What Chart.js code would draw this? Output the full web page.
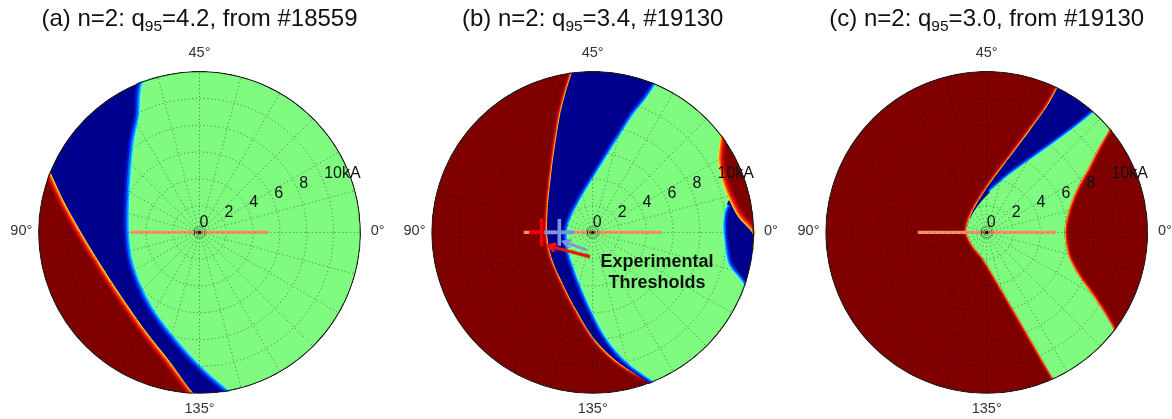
<!DOCTYPE html>
<html>
<head>
<meta charset="utf-8">
<script src="https://cdn.jsdelivr.net/npm/chart.js@4.4.1/dist/chart.umd.min.js"></script>
<style>
  html, body { margin: 0; padding: 0; background: #fff; overflow: hidden; }
  #wrap { position: relative; width: 1172px; height: 419px; overflow: hidden; }
  canvas { position: absolute; top: 0; }
</style>
</head>
<body>
<div id="wrap">
  <canvas id="pa" width="393" height="419"></canvas>
  <canvas id="pb" width="393" height="419"></canvas>
  <canvas id="pc" width="393" height="419"></canvas>
</div>
<script>
// ---------- axes ----------
const rMax = 12;                                   // outer ring, kA
const radialTicks = [0, 2, 4, 6, 8, 10];           // kA
const radialTickLabels = ['0', '2', '4', '6', '8', '10kA'];
const angleTicks = [0, 45, 90, 135];               // phase label, drawn at twice its value
const scanHalfLength = 5.15;                       // kA, scanned current range

// ---------- titles ----------
const titlePre  = ['(a) n=2: q', '(b) n=2: q', '(c) n=2: q'];
const titleSub  = ['95', '95', '95'];
const titlePost = ['=4.2, from #18559', '=3.4, #19130', '=3.0, from #19130'];

// ---------- region boundaries (x, y in kA) ----------
// (a)
const aRedEdge   = [[-11.21,4.53],[-10.04,2.17],[-8.79,-0.07],[-7.43,-2.31],[-5.81,-4.80],[-4.07,-7.28],[-2.20,-9.65],[-0.46,-11.96]];
const aGreenEdge = [[-2.95,11.87],[-3.82,10.38],[-4.44,8.63],[-4.81,6.87],[-5.06,4.41],[-5.19,1.92],[-5.19,0.05],[-4.99,-1.81],[-4.44,-3.55],[-3.45,-5.54],[-2.20,-7.28],[-0.71,-9.02],[0.78,-10.51],[2.28,-11.76]];
// (b)
const bRedEdge   = [[-1.57,11.88],[-2.07,10.26],[-2.44,8.77],[-2.81,6.53],[-3.11,4.29],[-3.34,2.05],[-3.41,0.04],[-3.26,-1.16],[-2.96,-2.20],[-2.44,-3.40],[-1.32,-5.63],[0.17,-8.02],[2.04,-9.81],[4.43,-11.23]];
const bGreenEdge = [[4.78,11.13],[3.98,9.89],[3.08,8.77],[1.74,6.68],[0.25,4.29],[-0.87,2.43],[-1.69,0.78],[-1.88,-0.19],[-1.77,-1.31],[-1.47,-2.28],[-1.02,-3.54],[-0.13,-5.63],[1.07,-7.87],[2.63,-9.66],[4.57,-11.04]];
const bLensUpper = [[9.37,7.20],[9.35,5.41],[9.65,3.77],[10.17,2.43]];
const bLensLower = [[10.17,2.43],[10.84,1.16],[11.44,-0.19],[11.87,-1.31]];
const bRightGreenEdge = [[10.17,2.43],[10.00,2.10],[9.80,1.60],[9.68,0.56],[9.80,-0.93],[10.10,-2.43],[10.47,-3.77],[10.91,-4.96]];
// (c)
const cLeftUpper = [[5.22,10.67],[4.48,9.37],[3.23,7.63],[1.74,5.64],[0.25,3.66],[-0.87,1.91],[-1.32,0.92]];
const cLeftLower = [[-1.32,0.92],[-1.49,0.04],[-1.04,-0.95],[-0.25,-1.94],[1.24,-4.43],[2.73,-6.99],[4.22,-9.58],[4.97,-10.82]];
const cGreenEdge = [[-1.32,0.92],[-0.80,1.81],[0.25,3.01],[1.74,4.28],[3.60,5.62],[5.47,6.96],[6.96,8.08],[7.95,8.88]];
const cRightEdge = [[9.07,7.69],[8.31,6.29],[7.56,4.80],[6.81,3.46],[6.22,2.04],[5.84,0.54],[5.84,-0.57],[6.14,-1.92],[6.81,-3.19],[7.71,-4.46],[8.60,-5.80],[9.45,-7.29]];

// ---------- measured thresholds in (b) ----------
const thresholdX    = [-3.81, -2.49];   // kA along the 90° direction
const thresholdErrX = [0.93, 1.12];
const thresholdErrY = [1.06, 1.00];
const arrowTails = [[-0.20,-1.81],[-0.45,-1.31]];
const arrowHeads = [[-3.31,-1.01],[-2.19,-0.69]];
const noteLines = ['Experimental', 'Thresholds'];
const noteAnchor = [4.8, -2.18, -3.75];    // x, y of line 1, y of line 2 (kA)

// ---------- styling ----------
const DARK_RED = 'rgb(128,0,0)';
const NAVY = 'rgb(0,0,143)';
const GREEN = 'rgb(127,252,127)';
const GRID = 'rgba(0,0,0,0.42)';
const RED_BAND  = [[9,'rgb(185,0,0)'],[6,'rgb(235,25,0)'],[3.6,'rgb(255,110,0)'],[1.6,'rgb(255,215,40)']];
const BLUE_BAND = [[10,'rgb(0,20,205)'],[6.5,'rgb(0,90,255)'],[3.8,'rgb(0,190,255)'],[1.6,'rgb(110,255,220)']];

// ---------- geometry helpers ----------
const toXY = arr => arr.map(p => ({x: p[0], y: p[1]}));
const angOf = p => Math.atan2(p[1], p[0]);
function snap(p) {
  const r = Math.hypot(p[0], p[1]);
  return r > 11 ? [p[0] * rMax / r, p[1] * rMax / r] : [p[0], p[1]];
}
function ring(r, stepDeg) {
  const out = [];
  for (let d = 0; d <= 360; d += stepDeg) {
    const t = d * Math.PI / 180;
    out.push([r * Math.cos(t), r * Math.sin(t)]);
  }
  return out;
}
function rimArc(a0, a1, dir) {
  let d = a1 - a0;
  if (dir > 0) { while (d <= 0) d += 2 * Math.PI; } else { while (d >= 0) d -= 2 * Math.PI; }
  const n = Math.max(2, Math.ceil(Math.abs(d) / (Math.PI / 90)));
  const out = [];
  for (let i = 1; i < n; i++) {
    const t = a0 + d * i / n;
    out.push([rMax * Math.cos(t), rMax * Math.sin(t)]);
  }
  return out;
}
// closed outline from boundary pieces, joined along the rim where dir != 0
function region(parts) {
  const out = [];
  parts.forEach((p, i) => {
    const e = (p.rev ? p.edge.slice().reverse() : p.edge).map(snap);
    out.push(...e);
    if (p.dir) {
      const n = parts[(i + 1) % parts.length];
      const s = snap(n.rev ? n.edge[n.edge.length - 1] : n.edge[0]);
      out.push(...rimArc(angOf(e[e.length - 1]), angOf(s), p.dir));
    }
  });
  out.push(out[0]);
  return out;
}

function fillSet(points, color) {
  return { data: toXY(points), showLine: true, fill: 'shape', backgroundColor: color,
           borderWidth: 0, pointRadius: 0, tension: 0.3, clip: false };
}
function lineSet(points, color, width, extra) {
  return Object.assign({ data: toXY(points), showLine: true, fill: false, borderColor: color,
           borderWidth: width, pointRadius: 0, tension: 0.3, clip: false,
           borderCapStyle: 'butt', borderJoinStyle: 'round' }, extra || {});
}
function band(edge, spec, k) {
  const e = edge.map(snap);
  return spec.map(([w, c]) => lineSet(e, c, w * k));
}
function arrow(tail, head, color, w) {
  const dx = head[0] - tail[0], dy = head[1] - tail[1], L = Math.hypot(dx, dy);
  const ux = dx / L, uy = dy / L, hl = 0.62, sp = 0.5;
  const c = Math.cos(sp), s = Math.sin(sp);
  const a1 = [head[0] - hl * (ux * c - uy * s), head[1] - hl * (uy * c + ux * s)];
  const a2 = [head[0] - hl * (ux * c + uy * s), head[1] - hl * (uy * c - ux * s)];
  return [lineSet([tail, head], color, w, {tension: 0}),
          lineSet([a1, head, a2], color, w, {tension: 0, borderJoinStyle: 'miter'})];
}

// ---------- layers of each panel (back to front) ----------
function layersA() {
  return [
    fillSet(ring(rMax, 2), DARK_RED),
    ...band(aRedEdge, RED_BAND, 1.3),
    fillSet(region([{edge: aRedEdge, dir: 1}]), NAVY),
    ...band(aGreenEdge, BLUE_BAND, 1.3),
    fillSet(region([{edge: aGreenEdge, dir: 1}]), GREEN)
  ];
}
function layersB() {
  const lens = bLensUpper.concat(bLensLower.slice(1));
  return [
    fillSet(ring(rMax, 2), DARK_RED),
    ...band(bRedEdge, RED_BAND, 0.7),
    fillSet(region([{edge: bRedEdge, dir: 1}]), NAVY),
    ...band(bGreenEdge, BLUE_BAND, 1.0),
    fillSet(region([{edge: lens, dir: 1}]), DARK_RED),
    ...band(lens, RED_BAND, 1.5),
    fillSet(region([{edge: bLensLower, dir: -1}, {edge: bRightGreenEdge, rev: true, dir: 0}]), NAVY),
    ...band(bRightGreenEdge.slice(1), BLUE_BAND, 1.0),
    fillSet(region([{edge: bGreenEdge, dir: 1},
                    {edge: bRightGreenEdge, rev: true, dir: 0},
                    {edge: bLensUpper, rev: true, dir: 1}]), GREEN)
  ];
}
function layersC() {
  const left = cLeftUpper.concat(cLeftLower.slice(1));
  return [
    fillSet(ring(rMax, 2), DARK_RED),
    ...band(left, RED_BAND, 0.7),
    ...band(cRightEdge, RED_BAND, 0.8),
    fillSet(region([{edge: left, dir: 1}, {edge: cRightEdge, rev: true, dir: 1}]), NAVY),
    ...band(cGreenEdge.slice(2), BLUE_BAND, 0.8),
    fillSet(region([{edge: cGreenEdge, rev: true, dir: 0},
                    {edge: cLeftLower, dir: 1},
                    {edge: cRightEdge, rev: true, dir: 1}]), GREEN)
  ];
}
function overlay(withThresholds) {
  const s = [];
  radialTicks.slice(1).forEach(r =>
    s.push(lineSet(ring(r, 2), GRID, 1, {tension: 0, borderDash: [1.2, 2.6]})));
  for (let k = 0; k < 24; k++) {
    const t = k * 15 * Math.PI / 180;
    s.push(lineSet([[0.45 * Math.cos(t), 0.45 * Math.sin(t)], [rMax * Math.cos(t), rMax * Math.sin(t)]],
                   GRID, 1, {tension: 0, borderDash: [1.2, 2.6]}));
  }
  // scanned current range along the 0°–90° axis
  s.push(lineSet([[-scanHalfLength, 0], [scanHalfLength, 0]], 'rgb(242,146,102)', 3.4, {tension: 0}));
  s.push(lineSet([[-scanHalfLength, 0], [scanHalfLength, 0]], 'rgba(190,80,40,0.55)', 1.2,
                 {tension: 0, borderDash: [1.2, 4.2]}));
  [0.22, 0.4].forEach(r => s.push(lineSet(ring(r, 10), 'rgba(0,0,0,0.45)', 0.8, {tension: 0})));
  if (withThresholds) {
    const cols = ['rgb(240,0,0)', 'rgb(118,148,228)'];
    thresholdX.forEach((x0, i) => {
      s.push(lineSet([[x0 - thresholdErrX[i], 0], [x0 + thresholdErrX[i], 0]], cols[i], 3.6, {tension: 0}));
      s.push(lineSet([[x0, -thresholdErrY[i]], [x0, thresholdErrY[i]]], cols[i], 3.6, {tension: 0}));
    });
    s.push(...arrow(arrowTails[0], arrowHeads[0], 'rgb(235,20,20)', 3.2));
    s.push(...arrow(arrowTails[1], arrowHeads[1], 'rgb(118,148,228)', 2.6));
  }
  s.push({ data: [{x: 0, y: 0}], showLine: false, pointRadius: 1.6, pointBorderWidth: 0,
           pointBackgroundColor: '#000', clip: false });
  s.push(lineSet(ring(rMax, 2), '#1c1c1c', 1.2, {tension: 0}));
  return s;
}

// ---------- plugins ----------
const diskClip = {
  id: 'diskClip',
  beforeDatasetsDraw(chart) {
    const {ctx, scales: {x, y}} = chart;
    const cx = x.getPixelForValue(0), cy = y.getPixelForValue(0);
    const r = x.getPixelForValue(rMax) - cx + 0.8;
    ctx.save();
    ctx.beginPath();
    ctx.arc(cx, cy, r, 0, 2 * Math.PI);
    ctx.clip();
  },
  afterDatasetsDraw(chart) { chart.ctx.restore(); }
};

const panelText = {
  id: 'panelText',
  afterDraw(chart, args, opts) {
    const i = opts.panel;
    const {ctx, scales: {x, y}} = chart;
    const X = v => x.getPixelForValue(v), Y = v => y.getPixelForValue(v);
    const cx = X(0);
    ctx.save();
    // title with subscript
    const fMain = '24px "Liberation Sans", Arial, sans-serif';
    const fSub = '15.5px "Liberation Sans", Arial, sans-serif';
    ctx.fillStyle = '#111';
    ctx.textBaseline = 'alphabetic';
    ctx.textAlign = 'left';
    ctx.font = fMain;
    const w1 = ctx.measureText(titlePre[i]).width, w3 = ctx.measureText(titlePost[i]).width;
    ctx.font = fSub;
    const w2 = ctx.measureText(titleSub[i]).width;
    const x0 = cx - (w1 + w2 + w3) / 2;
    ctx.font = fMain; ctx.fillText(titlePre[i], x0, 26);
    ctx.font = fSub;  ctx.fillText(titleSub[i], x0 + w1, 31);
    ctx.font = fMain; ctx.fillText(titlePost[i], x0 + w1 + w2, 26);

    // angle labels
    ctx.font = '14.5px "Liberation Sans", Arial, sans-serif';
    ctx.fillStyle = '#333';
    ctx.textAlign = 'center';
    ctx.textBaseline = 'middle';
    angleTicks.forEach(v => {
      const t = 2 * v * Math.PI / 180, r = 13.3;
      ctx.fillText(v + '°', X(r * Math.cos(t)), Y(r * Math.sin(t)) - 1.5);
    });

    // radial tick labels
    ctx.font = '16px "Liberation Sans", Arial, sans-serif';
    ctx.fillStyle = '#111';
    ctx.textAlign = 'left';
    const la = 21.5 * Math.PI / 180;
    radialTicks.forEach((r, k) => {
      ctx.fillText(radialTickLabels[k], X(r * Math.cos(la)), Y(r * Math.sin(la)) - 9.7);
    });

    // annotation
    if (opts.note) {
      ctx.font = 'bold 18px "Liberation Sans", Arial, sans-serif';
      ctx.fillStyle = '#111';
      ctx.textAlign = 'center';
      ctx.fillText(noteLines[0], X(noteAnchor[0]), Y(noteAnchor[1]));
      ctx.fillText(noteLines[1], X(noteAnchor[0]), Y(noteAnchor[2]));
    }
    ctx.restore();
  }
};

// ---------- build the three panels ----------
const panelCenters = [199.5, 592.7, 986.7];
const canvasLefts = [3, 396, 790];
const CW = 393, CH = 419, CY = 232.4, RPX = 160.8;
const builders = [layersA, layersB, layersC];

['pa', 'pb', 'pc'].forEach((id, i) => {
  const cv = document.getElementById(id);
  cv.style.left = canvasLefts[i] + 'px';
  const lc = panelCenters[i] - canvasLefts[i];
  const datasets = builders[i]().concat(overlay(i === 1));
  datasets.forEach((d, k) => { d.order = -k; });
  new Chart(cv, {
    type: 'scatter',
    data: { datasets },
    options: {
      responsive: false,
      animation: false,
      events: [],
      devicePixelRatio: 1,
      layout: { padding: { left: lc - RPX, right: CW - lc - RPX, top: CY - RPX, bottom: CH - CY - RPX } },
      scales: {
        x: { type: 'linear', min: -rMax, max: rMax, display: false },
        y: { type: 'linear', min: -rMax, max: rMax, display: false }
      },
      plugins: {
        legend: { display: false },
        tooltip: { enabled: false },
        filler: { propagate: false, drawTime: 'beforeDatasetDraw' },
        panelText: { panel: i, note: i === 1 }
      }
    },
    plugins: [diskClip, panelText]
  });
});
</script>
</body>
</html>
